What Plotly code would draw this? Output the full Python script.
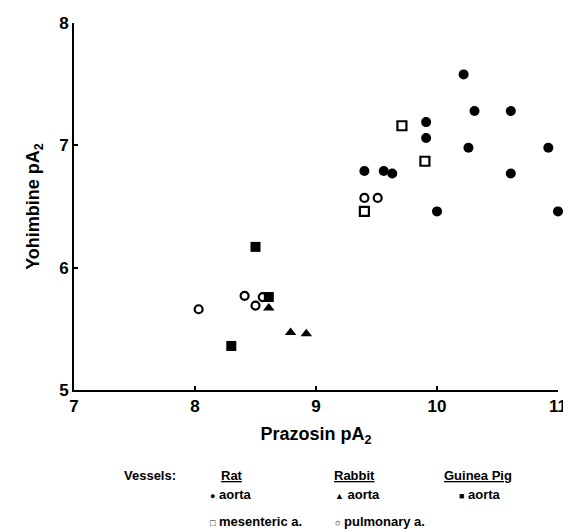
import plotly.graph_objects as go

# Rat aorta (filled circles)
rat_aorta_x = [9.40, 9.56, 9.63, 9.91, 9.91, 10.00, 10.22, 10.31, 10.26, 10.61, 10.61, 10.92, 11.00]
rat_aorta_y = [6.79, 6.79, 6.77, 7.19, 7.06, 6.46, 7.58, 7.28, 6.98, 7.28, 6.77, 6.98, 6.46]
# Rat mesenteric a. (open squares)
rat_mes_x = [9.71, 9.90, 9.40]
rat_mes_y = [7.16, 6.87, 6.46]
# Rabbit aorta (filled triangles)
rab_aorta_x = [8.61, 8.79, 8.92]
rab_aorta_y = [5.67, 5.47, 5.46]
# Rabbit pulmonary a. (open circles)
rab_pulm_x = [8.03, 8.41, 8.50, 8.56, 9.40, 9.51]
rab_pulm_y = [5.66, 5.77, 5.69, 5.76, 6.57, 6.57]
# Guinea pig aorta (filled squares)
gp_aorta_x = [8.30, 8.50, 8.61]
gp_aorta_y = [5.36, 6.17, 5.76]

x_ticks = [7, 8, 9, 10, 11]
y_ticks = [5, 6, 7, 8]

FONT = "Liberation Sans, Arial, Helvetica, sans-serif"

fig = go.Figure()
fig.add_trace(go.Scatter(x=rab_pulm_x, y=rab_pulm_y, mode="markers", cliponaxis=False,
                         marker=dict(symbol="circle-open", size=8, color="black", line=dict(width=2.2, color="black"))))
fig.add_trace(go.Scatter(x=rat_mes_x, y=rat_mes_y, mode="markers", cliponaxis=False,
                         marker=dict(symbol="square-open", size=9, color="black", line=dict(width=2.2, color="black"))))
fig.add_trace(go.Scatter(x=gp_aorta_x, y=gp_aorta_y, mode="markers", cliponaxis=False,
                         marker=dict(symbol="square", size=10, color="black")))
fig.add_trace(go.Scatter(x=rab_aorta_x, y=rab_aorta_y, mode="markers", cliponaxis=False,
                         marker=dict(symbol="triangle-up", size=10, color="black")))
fig.add_trace(go.Scatter(x=rat_aorta_x, y=rat_aorta_y, mode="markers", cliponaxis=False,
                         marker=dict(symbol="circle", size=10, color="black")))

axis_common = dict(showgrid=False, zeroline=False, showline=True, linecolor="black", linewidth=2,
                   ticks="inside", ticklen=4, tickwidth=1.5, tickcolor="black", automargin=False,
                   tickfont=dict(family=FONT, size=17, color="black", weight="bold"))

# page body has an 8px margin, so the figure is sized to fit the remaining window
fig.update_layout(
    width=563, height=521,
    margin=dict(l=66, r=13, t=15, b=139),
    paper_bgcolor="white", plot_bgcolor="white",
    showlegend=False,
    xaxis=dict(range=[7, 11], tickvals=x_ticks, **axis_common,
               title=dict(text="<b>Prazosin pA<sub>2</sub></b>", standoff=12,
                          font=dict(family=FONT, size=18, color="black"))),
    yaxis=dict(range=[5, 8], tickvals=y_ticks, **axis_common,
               title=dict(text="<b>Yohimbine pA<sub>2</sub></b>", standoff=15,
                          font=dict(family=FONT, size=18, color="black"))),
)

def sym(ch):
    return "<span style='font-size:9px'>" + ch + "</span>"

# legend block (paper coords relative to plot area)
legend_items = [
    ("<b>Vessels:</b>", 0.099, -0.232, "left"),
    ("<b><u>Rat</u></b>", 0.326, -0.232, "center"),
    ("<b><u>Rabbit</u></b>", 0.579, -0.232, "center"),
    ("<b><u>Guinea Pig</u></b>", 0.835, -0.232, "center"),
    ("<b>" + sym("\u25cf") + " aorta</b>", 0.277, -0.286, "left"),
    ("<b>" + sym("\u25b2") + " aorta</b>", 0.535, -0.286, "left"),
    ("<b>" + sym("\u25a0") + " aorta</b>", 0.791, -0.286, "left"),
    ("<b>" + sym("\u25a1") + " mesenteric a.</b>", 0.277, -0.358, "left"),
    ("<b>" + sym("\u25cb") + " pulmonary a.</b>", 0.535, -0.358, "left"),
]
for text, x, y, align in legend_items:
    fig.add_annotation(text=text, x=x, y=y, xref="paper", yref="paper", showarrow=False,
                       xanchor=align, yanchor="middle",
                       font=dict(family=FONT, size=13, color="black"))

fig.write_html("out.html")
